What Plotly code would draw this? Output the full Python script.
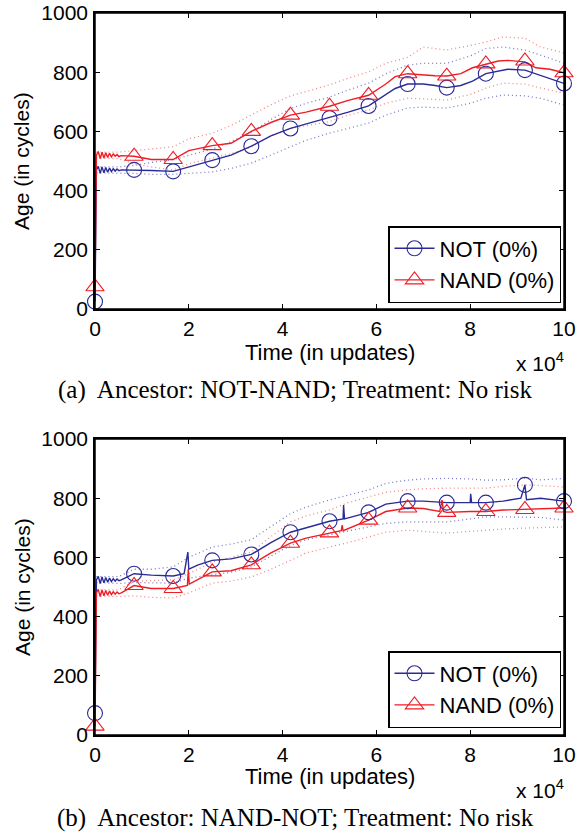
import plotly.graph_objects as go

# ---------------- data (x in updates) ----------------
# Panel (a): Ancestor NOT-NAND
a_not_x = [0, 300, 700, 1100, 1500, 1900, 2300, 2700, 3100, 3500, 3900, 4300, 4700, 5100, 5600,
           8333, 12000, 16667, 20000, 25000, 29000, 33333, 37500, 41667, 45000, 50000, 54000,
           58333, 62000, 64000, 66667, 70000, 72500, 75000, 78000, 80500, 83333, 86000, 88000,
           91667, 94000, 97000, 100000]
a_not_y = [25, 470, 482, 458, 480, 460, 478, 462, 476, 464, 474, 466, 473, 467, 470,
           470, 468, 465, 480, 503, 520, 550, 585, 610, 625, 645, 665,
           686, 725, 745, 760, 760, 755, 748, 755, 770, 795, 805, 810,
           807, 795, 780, 762]
a_nand_x = a_not_x
a_nand_y = [75, 520, 532, 508, 530, 510, 528, 512, 526, 514, 524, 516, 522, 515, 518,
            516, 505, 505, 535, 552, 560, 600, 630, 655, 665, 685, 705,
            722, 760, 785, 795, 790, 788, 787, 795, 815, 828, 838, 840,
            835, 815, 810, 798]
a_band_x = [300, 5000, 8333, 12000, 16667, 20000, 25000, 29000, 33333, 37500, 41667, 45000,
            50000, 54000, 58333, 62000, 66667, 70000, 75000, 80000, 83333, 87000, 91667,
            95000, 100000]
a_not_hi = [480, 480, 485, 495, 505, 520, 540, 565, 598, 640, 677, 695,
            716, 740, 763, 795, 824, 830, 830, 855, 880, 885, 875, 858, 830]
a_not_lo = [460, 460, 458, 455, 455, 458, 463, 475, 493, 520, 547, 570,
            594, 610, 628, 655, 679, 682, 679, 695, 712, 723, 720, 712, 689]
a_nand_hi = [530, 530, 535, 540, 548, 575, 594, 620, 655, 690, 720, 735,
             757, 780, 801, 830, 850, 885, 875, 890, 902, 919, 915, 885, 865]
a_nand_lo = [510, 508, 490, 480, 470, 490, 510, 525, 547, 585, 610, 620,
             633, 655, 672, 695, 712, 710, 706, 725, 746, 763, 760, 747, 729]
marker_x = [0, 8333, 16667, 25000, 33333, 41667, 50000, 58333, 66667, 75000, 83333, 91667, 100000]
a_not_mk = [25, 470, 465, 503, 550, 610, 645, 686, 760, 748, 795, 807, 762]
a_nand_mk = [75, 516, 505, 552, 600, 655, 685, 722, 795, 787, 828, 838, 798]

# Panel (b): Ancestor NAND-NOT
b_not_x = [0, 300, 700, 1100, 1500, 1900, 2300, 2700, 3100, 3500, 3900, 4300, 4700, 5100, 5600,
           8333, 12000, 16667, 19000, 19800, 20000, 22000, 25000, 29000, 33333, 37500, 41667,
           45000, 50000, 52900, 53000, 53200, 58333, 62000, 66667, 70000, 75000, 80000, 80100,
           80300, 83333, 87000, 90800, 91667, 92000, 95000, 100000]
b_not_y = [74, 524, 536, 512, 534, 514, 532, 516, 530, 518, 528, 520, 527, 521, 524,
           545, 540, 537, 545, 618, 560, 575, 590, 595, 610, 650, 685,
           700, 722, 730, 777, 730, 752, 780, 790, 790, 785, 785, 815,
           785, 785, 790, 800, 845, 795, 800, 790]
b_nand_x = [0, 300, 700, 1100, 1500, 1900, 2300, 2700, 3100, 3500, 3900, 4300, 4700, 5100, 5600,
            8333, 12000, 16667, 19700, 19900, 20100, 25000, 29000, 33333, 37500, 41667, 45000,
            50000, 52500, 52700, 52900, 58333, 62000, 66667, 70000, 73500, 74000, 74300, 75000,
            80000, 83333, 87000, 91667, 95000, 100000]
b_nand_y = [30, 480, 492, 468, 490, 470, 488, 472, 486, 474, 484, 476, 483, 477, 480,
            505, 495, 495, 505, 560, 510, 551, 555, 575, 615, 648, 665,
            683, 690, 709, 690, 726, 755, 767, 765, 755, 794, 755, 752,
            755, 755, 760, 762, 765, 767]
b_band_x = [300, 5000, 8333, 12000, 16667, 20000, 25000, 29000, 33333, 37500, 41667, 45000,
            50000, 54000, 58333, 62000, 66667, 70000, 75000, 80000, 83333, 87000, 91667,
            95000, 100000]
b_not_hi = [535, 535, 560, 560, 568, 600, 635, 645, 660, 705, 748, 770,
            794, 810, 828, 850, 861, 865, 867, 865, 861, 862, 868, 862, 867]
b_not_lo = [515, 512, 515, 515, 513, 530, 540, 550, 568, 605, 640, 660,
            676, 690, 703, 715, 720, 720, 720, 730, 737, 737, 737, 735, 726]
b_nand_hi = [490, 490, 520, 522, 524, 545, 584, 600, 618, 670, 720, 740,
             760, 785, 805, 820, 828, 832, 834, 834, 834, 840, 845, 843, 838]
b_nand_lo = [470, 468, 470, 465, 463, 480, 513, 520, 534, 560, 590, 615,
             635, 650, 669, 685, 692, 688, 682, 688, 692, 696, 699, 701, 703]
b_not_mk = [74, 545, 537, 590, 610, 685, 722, 752, 790, 785, 785, 845, 790]
b_nand_mk = [30, 505, 495, 551, 575, 648, 683, 726, 767, 752, 755, 762, 767]

series_names = ["NOT (0%)", "NAND (0%)"]
x_tickvals = [0, 20000, 40000, 60000, 80000, 100000]
x_ticktext = ["0", "2", "4", "6", "8", "10"]
y_tickvals = [0, 200, 400, 600, 800, 1000]

# ---------------- style ----------------
BLUE = "#2b2b98"
RED = "#ee1d25"
BLUE_L = "#7a7ac8"
RED_L = "#f28585"
SANS = "Liberation Sans, Arial, sans-serif"
SERIF = "Liberation Serif, Times New Roman, serif"

fig = go.Figure()


def add_panel(xa, ya, legend, not_x, not_y, nand_x, nand_y, band_x,
              not_hi, not_lo, nand_hi, nand_lo, not_mk, nand_mk):
    for yy, col in [(not_hi, BLUE_L), (not_lo, BLUE_L), (nand_hi, RED_L), (nand_lo, RED_L)]:
        fig.add_trace(go.Scatter(x=band_x, y=yy, mode="lines", xaxis=xa, yaxis=ya,
                                 line=dict(color=col, width=1.3, dash="1px,3px"),
                                 showlegend=False, hoverinfo="skip"))
    fig.add_trace(go.Scatter(x=not_x, y=not_y, mode="lines", xaxis=xa, yaxis=ya,
                             line=dict(color=BLUE, width=1.4), showlegend=False))
    fig.add_trace(go.Scatter(x=nand_x, y=nand_y, mode="lines", xaxis=xa, yaxis=ya,
                             line=dict(color=RED, width=1.4), showlegend=False))
    fig.add_trace(go.Scatter(x=marker_x, y=not_mk, mode="markers", xaxis=xa, yaxis=ya,
                             cliponaxis=False, showlegend=False,
                             marker=dict(symbol="circle-open", size=15,
                                         line=dict(color=BLUE, width=1.1), color=BLUE)))
    fig.add_trace(go.Scatter(x=marker_x, y=nand_mk, mode="markers", xaxis=xa, yaxis=ya,
                             cliponaxis=False, showlegend=False,
                             marker=dict(symbol="triangle-up-open", size=16,
                                         line=dict(color=RED, width=1.1), color=RED)))
    # legend entries
    fig.add_trace(go.Scatter(x=[None], y=[None], mode="lines+markers", xaxis=xa, yaxis=ya,
                             name=series_names[0], legend=legend,
                             line=dict(color=BLUE, width=1.4),
                             marker=dict(symbol="circle-open", size=15,
                                         line=dict(color=BLUE, width=1.1), color=BLUE)))
    fig.add_trace(go.Scatter(x=[None], y=[None], mode="lines+markers", xaxis=xa, yaxis=ya,
                             name=series_names[1], legend=legend,
                             line=dict(color=RED, width=1.4),
                             marker=dict(symbol="triangle-up-open", size=16,
                                         line=dict(color=RED, width=1.1), color=RED)))


add_panel("x", "y", "legend", a_not_x, a_not_y, a_nand_x, a_nand_y, a_band_x,
          a_not_hi, a_not_lo, a_nand_hi, a_nand_lo, a_not_mk, a_nand_mk)
add_panel("x2", "y2", "legend2", b_not_x, b_not_y, b_nand_x, b_nand_y, b_band_x,
          b_not_hi, b_not_lo, b_nand_hi, b_nand_lo, b_not_mk, b_nand_mk)

W, H = 579, 833


def px_x(p):
    return p / W


def px_y(p):
    return 1 - p / H


xcommon = dict(range=[0, 100000], tickvals=x_tickvals, ticktext=x_ticktext,
               ticks="inside", ticklen=5, tickwidth=1, tickcolor="black",
               showline=True, linecolor="black", linewidth=1.5, mirror="ticks",
               showgrid=False, zeroline=False, ticklabelstandoff=0, automargin=False,
               ticklabeloverflow="allow",
               tickfont=dict(family=SANS, size=21, color="black"))
ycommon = dict(range=[0, 1000], tickvals=y_tickvals,
               ticks="inside", ticklen=5, tickwidth=1, tickcolor="black",
               showline=True, linecolor="black", linewidth=1.5, mirror="ticks",
               showgrid=False, zeroline=False, ticklabelstandoff=1, automargin=False,
               ticklabeloverflow="allow",
               tickfont=dict(family=SANS, size=21, color="black"))

legcommon = dict(bgcolor="white", bordercolor="black", borderwidth=1.5,
                 font=dict(family=SANS, size=22, color="black"),
                 xanchor="right", yanchor="bottom", tracegroupgap=0,
                 itemwidth=40)

fig.update_layout(
    width=W, height=H, margin=dict(l=0, r=0, t=0, b=0, autoexpand=False),
    paper_bgcolor="white", plot_bgcolor="white",
    xaxis=dict(domain=[px_x(95), px_x(564)], anchor="y", **xcommon),
    yaxis=dict(domain=[px_y(309), px_y(13)], anchor="x", **ycommon),
    xaxis2=dict(domain=[px_x(95), px_x(564)], anchor="y2", **xcommon),
    yaxis2=dict(domain=[px_y(735), px_y(439)], anchor="x2", **ycommon),
    legend=dict(x=px_x(561), y=px_y(303), **legcommon),
    legend2=dict(x=px_x(561), y=px_y(728), **legcommon),
)

# frame boxes around both plot areas
for xr, yr in [("x domain", "y domain"), ("x2 domain", "y2 domain")]:
    fig.add_shape(type="rect", xref=xr, yref=yr, x0=0, x1=1, y0=0, y1=1,
                  line=dict(color="black", width=1.5), layer="above")

annots = []
for (ymid, ytitle, yx10, ycap, cap) in [
        (161, 352, 362, 390, "(a)  Ancestor: NOT-NAND; Treatment: No risk"),
        (587, 776, 789, 818, "(b)  Ancestor: NAND-NOT; Treatment: No risk")]:
    common = dict(showarrow=False, xref="paper", yref="paper", yanchor="middle")
    annots.append(dict(text="Age (in cycles)", x=px_x(22), y=px_y(ymid), textangle=-90,
                       xanchor="center", font=dict(family=SANS, size=21, color="black"),
                       **common))
    annots.append(dict(text="Time (in updates)", x=px_x(329.5), y=px_y(ytitle),
                       xanchor="center", font=dict(family=SANS, size=22, color="black"),
                       **common))
    annots.append(dict(text="x 10<sup>4</sup>", x=px_x(566), y=px_y(yx10), xanchor="right",
                       font=dict(family=SANS, size=21, color="black"), **common))
    annots.append(dict(text=cap, x=px_x(295), y=px_y(ycap), xanchor="center",
                       font=dict(family=SERIF, size=25, color="black"), **common))
fig.update_layout(annotations=annots)

fig.write_html("out.html", config={"displayModeBar": False},
               post_script="document.body.style.margin='0px';"
                           "document.body.style.overflow='hidden';")
